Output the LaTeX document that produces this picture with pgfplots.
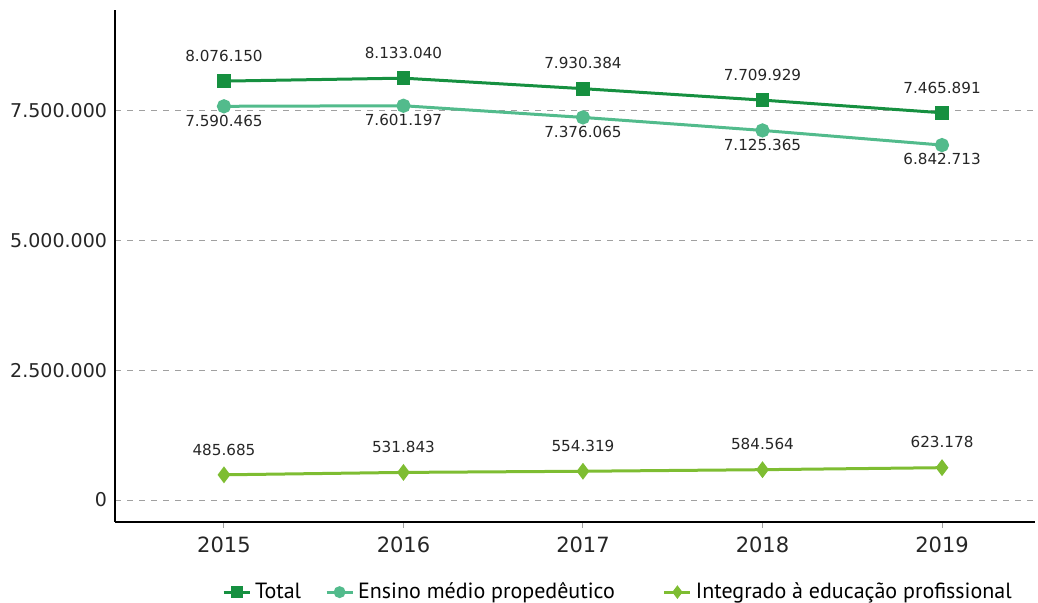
\documentclass[border=0pt]{standalone}
\usepackage{fontspec}
\setmainfont{DejaVu Sans}
\newfontfamily\legendfont{PT Sans}
\usepackage{pgfplots}
\pgfplotsset{compat=1.18}
\definecolor{ctotal}{RGB}{22,144,64}
\definecolor{censino}{RGB}{82,187,140}
\definecolor{cinteg}{RGB}{126,189,50}
\definecolor{cgrid}{RGB}{160,160,160}
\begin{document}
\begin{tikzpicture}
\begin{axis}[
  scale only axis,
  width=460pt, height=256pt,
  xmin=2014.393, xmax=2019.518,
  ymin=-424000, ymax=9447000,
  scaled y ticks=false, scaled x ticks=false,
  axis x line=bottom, axis y line=left,
  axis line style={-, black, line width=0.8pt},
  xtick={2015,2016,2017,2018,2019},
  xticklabels={2015,2016,2017,2018,2019},
  ytick={0,2500000,5000000,7500000},
  yticklabels={0,2.500.000,5.000.000,7.500.000},
  x tick style={cgrid, line width=0.5pt},
  major tick length=3pt,
  y tick style={draw=none},
  xtick align=outside,
  ymajorgrids,
  grid style={dashed, cgrid, line width=0.5pt},
  tick label style={font=\fontsize{9.5}{12}\selectfont, text=black!85},
  xticklabel style={font=\fontsize{10.5}{12}\selectfont, yshift=-1pt},
  yticklabel style={xshift=1pt},
  /pgf/number format/assume math mode=true,
  clip=false,
  legend columns=3,
  legend style={at={(0.116,-0.137)}, anchor=west, draw=none, fill=none, inner sep=0pt,
    font=\legendfont\fontsize{11}{13}\selectfont,
    nodes={inner xsep=2pt}},
  legend image code/.code={\draw[#1, mark size=2.2pt, mark repeat=2, mark phase=2] plot coordinates {(0pt,0pt)(6.5pt,0pt)(13pt,0pt)};},
  nodes near coords,
  point meta=explicit symbolic,
  every node near coord/.append style={font=\fontsize{7.6}{9}\selectfont, text=black!85, inner sep=0pt},
]
\addplot[ctotal, line width=1.5pt, mark=square*, mark size=2.7pt,
  every node near coord/.append style={anchor=south, yshift=9pt}]
  coordinates {(2015,8076150) [8.076.150] (2016,8133040) [8.133.040] (2017,7930384) [7.930.384] (2018,7709929) [7.709.929] (2019,7465891) [7.465.891]};
\addlegendentry{Total\rule{10pt}{0pt}}
\addplot[censino, line width=1.5pt, mark=*, mark size=2.8pt,
  every node near coord/.append style={anchor=north, yshift=-3.5pt}]
  coordinates {(2015,7590465) [7.590.465] (2016,7601197) [7.601.197] (2017,7376065) [7.376.065] (2018,7125365) [7.125.365] (2019,6842713) [6.842.713]};
\addlegendentry{Ensino médio propedêutico\rule{22pt}{0pt}}
\addplot[cinteg, line width=1.5pt, mark=diamond*, mark size=3pt,
  every node near coord/.append style={anchor=south, yshift=9pt}]
  coordinates {(2015,485685) [485.685] (2016,531843) [531.843] (2017,554319) [554.319] (2018,584564) [584.564] (2019,623178) [623.178]};
\addlegendentry{Integrado à educação profissional}
\coordinate (bl) at (rel axis cs:0,0);
\coordinate (tr) at (rel axis cs:1,1);
\end{axis}
\pgfresetboundingbox
\path ([shift={(-57.5pt,-40.5pt)}]bl) rectangle ([shift={(1.5pt,5pt)}]tr);
\end{tikzpicture}
\end{document}
